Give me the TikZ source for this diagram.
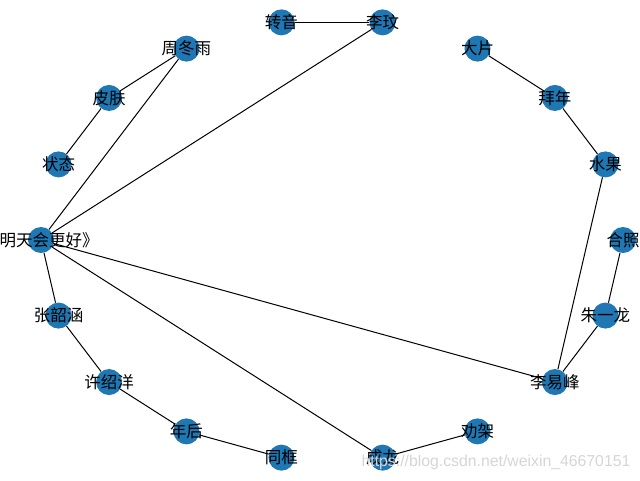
\documentclass[tikz,border=0pt]{standalone}
\usepackage{fontspec}
\setmainfont{Liberation Sans}
\newfontfamily\cjkfont{Noto Sans CJK SC}
\usetikzlibrary{backgrounds,positioning}
\definecolor{nodeblue}{HTML}{1F77B4}
\definecolor{ink}{HTML}{000000}
\definecolor{mark}{HTML}{D6D6D6}
\tikzset{
  vertex/.style={
    circle,
    fill=nodeblue,
    minimum size=26,
    inner sep=0pt,
    label={[font=\cjkfont\fontsize{16.5}{18}\selectfont, text=ink, inner sep=0pt]center:#1}
  },
  edge/.style={
    draw=ink,
    line width=1
  },
  watermark/.style={
    font=\fontsize{15.8}{17}\selectfont,
    text=mark
  }
}

\begin{document}
\begin{tikzpicture}[x=1pt,y=1pt]
  \useasboundingbox (-332,-240) rectangle (308,240);

  % circular layout, 18 nodes
  \node[vertex={合照}] (hezhao) at (0:291 and 221) {};
  \node[vertex={水果}] (shuiguo) at (20:291 and 221) {};
  \node[vertex={拜年}] (bainian) at (40:291 and 221) {};
  \node[vertex={大片}] (dapian) at (60:291 and 221) {};
  \node[vertex={李玟}] (liwen) at (80:291 and 221) {};
  \node[vertex={转音}] (zhuanyin) at (100:291 and 221) {};
  \node[vertex={周冬雨}] (zhoudongyu) at (120:291 and 221) {};
  \node[vertex={皮肤}] (pifu) at (140:291 and 221) {};
  \node[vertex={状态}] (zhuangtai) at (160:291 and 221) {};
  \node[vertex={《明天会更好》}] (mingtian) at (180:291 and 221) {};
  \node[vertex={张韶涵}] (zhangshaohan) at (200:291 and 221) {};
  \node[vertex={许绍洋}] (xushaoyang) at (220:291 and 221) {};
  \node[vertex={年后}] (nianhou) at (240:291 and 221) {};
  \node[vertex={同框}] (tongkuang) at (260:291 and 221) {};
  \node[vertex={成龙}] (chenglong) at (280:291 and 221) {};
  \node[vertex={劝架}] (quanjia) at (300:291 and 221) {};
  \node[vertex={李易峰}] (liyifeng) at (320:291 and 221) {};
  \node[vertex={朱一龙}] (zhuyilong) at (340:291 and 221) {};

  \begin{scope}[on background layer]
    \fill[white] (-332,-240) rectangle (308,240);
    \draw[edge] (zhuanyin) -- (liwen);
    \draw[edge] (liwen) -- (mingtian);
    \draw[edge] (zhoudongyu) -- (pifu);
    \draw[edge] (zhoudongyu) -- (mingtian);
    \draw[edge] (pifu) -- (zhuangtai);
    \draw[edge] (dapian) -- (bainian);
    \draw[edge] (bainian) -- (shuiguo);
    \draw[edge] (shuiguo) -- (liyifeng);
    \draw[edge] (hezhao) -- (zhuyilong);
    \draw[edge] (zhuyilong) -- (liyifeng);
    \draw[edge] (mingtian) -- (liyifeng);
    \draw[edge] (mingtian) -- (chenglong);
    \draw[edge] (mingtian) -- (zhangshaohan);
    \draw[edge] (zhangshaohan) -- (xushaoyang);
    \draw[edge] (xushaoyang) -- (nianhou);
    \draw[edge] (nianhou) -- (tongkuang);
    \draw[edge] (chenglong) -- (quanjia);
  \end{scope}

  \node[watermark] (url) at (164,-222) {https://blog.csdn.net/weixin\_46670151};
\end{tikzpicture}
\end{document}
